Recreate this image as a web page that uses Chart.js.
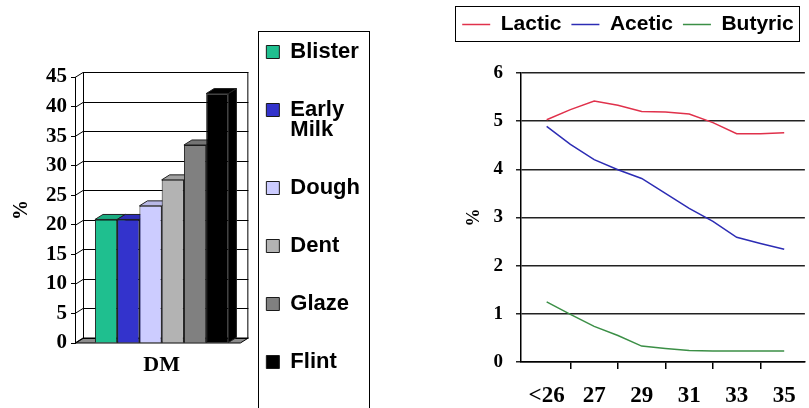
<!DOCTYPE html>
<html>
<head>
<meta charset="utf-8">
<script src="https://cdn.jsdelivr.net/npm/chart.js@4.4.1/dist/chart.umd.min.js"></script>
<style>
  html, body { margin: 0; padding: 0; background: #fff; }
  body { width: 809px; height: 408px; position: relative; overflow: hidden; }
  #dm-chart { position: absolute; left: 0; top: 0; }
  #acid-chart { position: absolute; left: 447px; top: 0; }
</style>
</head>
<body>
<canvas id="dm-chart" width="370" height="408"></canvas>
<canvas id="acid-chart" width="362" height="408"></canvas>
<script>
// left chart: dry matter by kernel stage
const dmCategory = ['DM'];
const stages = ['Blister', 'Early Milk', 'Dough', 'Dent', 'Glaze', 'Flint'];
const dmPercent = [20.9, 20.9, 23.2, 27.6, 33.5, 42.2];
const stageColors = ['#1fbf8f', '#3333cc', '#ccccff', '#b3b3b3', '#808080', '#000000'];

// right chart: acids by week
const weeks = ['<26', '26', '27', '28', '29', '30', '31', '32', '33', '34', '35'];
const lactic = [5.03, 5.24, 5.42, 5.33, 5.2, 5.19, 5.15, 4.97, 4.74, 4.74, 4.76];
const acetic = [4.89, 4.52, 4.2, 3.99, 3.81, 3.5, 3.19, 2.92, 2.59, 2.46, 2.34];
const butyric = [1.25, 0.99, 0.74, 0.55, 0.33, 0.28, 0.24, 0.23, 0.23, 0.23, 0.23];

const serif = 'Liberation Serif';
const sans = 'Liberation Sans';
Chart.defaults.color = '#000';

function shade(hex, f) {
  const n = parseInt(hex.slice(1), 16);
  const r = Math.round(((n >> 16) & 255) * f);
  const g = Math.round(((n >> 8) & 255) * f);
  const b = Math.round((n & 255) * f);
  return `rgb(${r},${g},${b})`;
}

// fake 3d: walls, floor, and the top/side faces of each bar
const depth3d = {
  id: 'depth3d',
  beforeDatasetsDraw(chart, args, opts) {
    const { ctx, chartArea: a } = chart;
    const yScale = chart.scales.y;
    const dx = opts.dx, dy = opts.dy;
    ctx.save();
    ctx.lineWidth = 1;
    ctx.strokeStyle = '#000';

    ctx.fillStyle = '#8c8c8c';
    ctx.beginPath();
    ctx.moveTo(a.left, a.bottom);
    ctx.lineTo(a.right - dx, a.bottom);
    ctx.lineTo(a.right, a.bottom - dy);
    ctx.lineTo(a.left + dx, a.bottom - dy);
    ctx.closePath();
    ctx.fill();
    ctx.stroke();

    ctx.beginPath();
    yScale.ticks.forEach(t => {
      const py = Math.round(yScale.getPixelForValue(t.value)) + 0.5;
      ctx.moveTo(a.left, py);
      ctx.lineTo(a.left + dx, py - dy);
      ctx.lineTo(a.right, py - dy);
    });
    ctx.moveTo(a.left + dx + 0.5, a.top - dy);
    ctx.lineTo(a.left + dx + 0.5, a.bottom - dy);
    ctx.moveTo(a.right - 0.5, a.top - dy);
    ctx.lineTo(a.right - 0.5, a.bottom - dy);
    ctx.stroke();

    ctx.strokeStyle = '#222';
    chart.data.datasets.forEach((ds, i) => {
      chart.getDatasetMeta(i).data.forEach(bar => {
        const { x, y, base, width } = bar.getProps(['x', 'y', 'base', 'width'], true);
        const l = x - width / 2, r = x + width / 2;
        ctx.fillStyle = shade(ds.backgroundColor, 0.7);
        ctx.beginPath();
        ctx.moveTo(r, y);
        ctx.lineTo(r + dx, y - dy);
        ctx.lineTo(r + dx, base - dy);
        ctx.lineTo(r, base);
        ctx.closePath();
        ctx.fill();
        ctx.stroke();
        ctx.fillStyle = shade(ds.backgroundColor, 0.9);
        ctx.beginPath();
        ctx.moveTo(l, y);
        ctx.lineTo(r, y);
        ctx.lineTo(r + dx, y - dy);
        ctx.lineTo(l + dx, y - dy);
        ctx.closePath();
        ctx.fill();
        ctx.stroke();
      });
    });
    ctx.restore();
  }
};

// box around the legend items
const legendFrame = {
  id: 'legendFrame',
  afterDraw(chart, args, opts) {
    const boxes = chart.legend && chart.legend.legendHitBoxes;
    if (!boxes || !boxes.length) return;
    const left = Math.min(...boxes.map(b => b.left));
    const top = Math.min(...boxes.map(b => b.top));
    const right = Math.max(...boxes.map(b => b.left + b.width));
    const bottom = Math.max(...boxes.map(b => b.top + b.height));
    const ctx = chart.ctx;
    ctx.save();
    ctx.strokeStyle = '#000';
    ctx.lineWidth = 1;
    const x0 = Math.round(left - opts.padLeft) + 0.5;
    const y0 = Math.round(top - opts.padTop) + 0.5;
    const x1 = opts.right != null ? opts.right : Math.round(right + opts.padRight) + 0.5;
    const y1 = Math.round(bottom + opts.padBottom) + 0.5;
    ctx.strokeRect(x0, y0, x1 - x0, y1 - y0);
    ctx.restore();
  }
};

new Chart(document.getElementById('dm-chart'), {
  type: 'bar',
  data: {
    labels: dmCategory,
    datasets: stages.map((s, i) => ({
      label: s,
      data: [dmPercent[i]],
      backgroundColor: stageColors[i],
      borderColor: '#1a1a1a',
      borderWidth: 1,
      categoryPercentage: 0.77,
      barPercentage: 1
    }))
  },
  options: {
    responsive: false,
    animation: false,
    layout: { padding: { top: 23, right: 0, left: 0, bottom: 0 } },
    plugins: {
      tooltip: { enabled: false },
      title: { display: true, text: '', fullSize: false, padding: { top: 0, bottom: 42 }, font: { size: 10 } },
      legend: {
        position: 'right',
        align: 'start',
        maxWidth: 200,
        labels: {
          boxWidth: 13,
          boxHeight: 13,
          padding: 18,
          font: { family: sans, size: 22, weight: 'bold', lineHeight: '20px' },
          generateLabels(chart) {
            const items = Chart.defaults.plugins.legend.labels.generateLabels(chart);
            items.forEach((it, i) => {
              const lines = it.text.split(' ');
              if (i < items.length - 1) lines.push('');
              it.text = lines;
            });
            return items;
          }
        }
      },
      legendFrame: { padLeft: 8, padTop: 10, padRight: 17, padBottom: 40, right: 369.5 },
      depth3d: { dx: 8, dy: 5 }
    },
    scales: {
      x: {
        grid: { display: false, drawTicks: false },
        border: { display: false },
        ticks: { padding: 9, font: { family: serif, size: 22, weight: 'bold' } },
        afterFit(s) { s.height = 65; }
      },
      y: {
        min: 0,
        max: 45,
        ticks: { stepSize: 5, padding: 4, font: { family: serif, size: 21, weight: 'bold' } },
        grid: { drawOnChartArea: false, tickLength: 4, color: '#000' },
        border: { color: '#000' },
        title: { display: true, text: '%', font: { family: serif, size: 20, weight: 'bold' }, padding: { top: 10, bottom: 0 } },
        afterFit(s) { s.width = 75; }
      }
    }
  },
  plugins: [depth3d, legendFrame]
});

const toPoints = vals => vals.map((v, i) => ({ x: i, y: v }));

new Chart(document.getElementById('acid-chart'), {
  type: 'line',
  data: {
    datasets: [
      { label: 'Lactic', data: toPoints(lactic), borderColor: '#e0314b', backgroundColor: '#e0314b', borderWidth: 1.5 },
      { label: 'Acetic', data: toPoints(acetic), borderColor: '#2c2cb4', backgroundColor: '#2c2cb4', borderWidth: 1.5 },
      { label: 'Butyric', data: toPoints(butyric), borderColor: '#3b8f46', backgroundColor: '#3b8f46', borderWidth: 1.5 }
    ]
  },
  options: {
    responsive: false,
    animation: false,
    layout: { padding: { top: 4, left: 0, right: 0, bottom: 0 } },
    elements: { point: { radius: 0 }, line: { tension: 0 } },
    plugins: {
      tooltip: { enabled: false },
      legend: {
        position: 'top',
        labels: {
          usePointStyle: true,
          pointStyle: 'line',
          pointStyleWidth: 28,
          padding: 10,
          font: { family: sans, size: 21, weight: 'bold' }
        }
      },
      title: { display: true, text: '', fullSize: false, weight: 900, padding: { top: 0, bottom: 16 }, font: { size: 10 } },
      legendFrame: { padLeft: 7, padTop: 8, padRight: 5, padBottom: 6 }
    },
    scales: {
      x: {
        type: 'linear',
        min: -1.08,
        max: 10.87,
        afterBuildTicks(s) { s.ticks = weeks.map((w, i) => ({ value: i })); },
        ticks: {
          autoSkip: false,
          maxRotation: 0,
          padding: 13,
          font: { family: serif, size: 23, weight: 'bold' },
          callback: v => (v % 2 === 0 ? weeks[v] : '')
        },
        grid: {
          drawOnChartArea: false,
          tickLength: 7,
          lineWidth: 1.5,
          color: c => (c.tick && c.tick.value % 2 === 1 ? '#000' : 'rgba(0,0,0,0)')
        },
        border: { color: '#000', width: 1.5 },
        afterFit(s) { s.height = 46; }
      },
      y: {
        min: 0,
        max: 6,
        ticks: { stepSize: 1, padding: 13, font: { family: serif, size: 19, weight: 'bold' } },
        grid: { color: '#222', lineWidth: 1.5, tickLength: 5 },
        border: { color: '#000', width: 1.5 },
        title: { display: true, text: '%', font: { family: serif, size: 18, weight: 'bold' }, padding: { top: 17, bottom: 0 } },
        afterFit(s) { s.width = 74; }
      }
    }
  },
  plugins: [legendFrame]
});
</script>
</body>
</html>
